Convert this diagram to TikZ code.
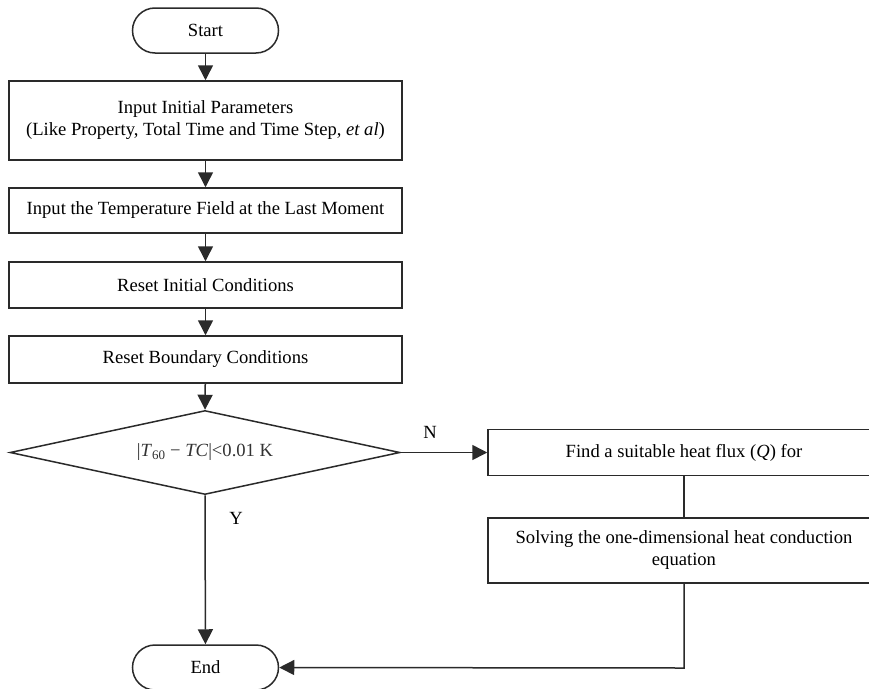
\documentclass[tikz,border=0pt]{standalone}
\usepackage{fontspec}
\setmainfont{Liberation Serif}
\usetikzlibrary{shapes.geometric,arrows.meta}
\definecolor{linec}{HTML}{2A2A2A}
\tikzset{
  every node/.style={font=\fontsize{18.6}{22}\selectfont},
  box/.style={draw=linec,line width=1.5pt,rectangle,minimum width=393pt,inner sep=0pt,align=center},
  term/.style={draw=linec,line width=1.5pt,rectangle,rounded corners=22.5pt,minimum width=146pt,minimum height=45pt,inner sep=0pt},
  decide/.style={draw=linec,line width=1.5pt,diamond,aspect=4.64,minimum width=390pt,minimum height=84pt,inner sep=0pt},
  arr/.style={draw=linec,line width=1.5pt,-{Triangle[length=15pt,width=15pt]}},
  ln/.style={draw=linec,line width=1.5pt},
  lbl/.style={font=\fontsize{18.6}{22}\selectfont}
}
\begin{document}
\begin{tikzpicture}[x=1pt,y=-1pt]
\useasboundingbox (0,0) rectangle (869,688);
\clip (0,0) rectangle (869,688);
\node[term] (start) at (205.5,30.5) {Start};
\node[box,minimum height=79pt] (b1) at (205.5,120.5) {Input Initial Parameters\\(Like Property, Total Time and Time Step, \textit{et al})};
\node[box,minimum height=45pt] (b2) at (205.5,210.5) {Input the Temperature Field at the Last Moment};
\node[box,minimum height=46pt] (b3) at (205.5,285) {Reset Initial Conditions};
\node[box,minimum height=47pt] (b4) at (205.5,359.5) {Reset Boundary Conditions};
\node[decide] (d) at (205,452.5) {};
\node (dt) at (205,452.5) {\textcolor{black!80}{|\textit{T}\textsubscript{60} − \textit{TC}|<0.01 K}};
\node[term] (end) at (205.5,667.5) {End};
\node[box,minimum width=392pt,minimum height=46pt] (r1) at (684,452.5) {Find a suitable heat flux (\textit{Q}) for};
\node[box,minimum width=392pt,minimum height=65pt] (r2) at (684,550.5) {Solving the one-dimensional heat conduction\\equation};
\node[lbl] (ny) at (236,518) {Y};
\node[lbl] (nn) at (430,432) {N};
\coordinate (corner) at (684,668);
\draw[arr] (start) -- (b1);
\draw[arr] (b1) -- (b2);
\draw[arr] (b2) -- (b3);
\draw[arr] (b3) -- (b4);
\draw[arr] (b4) -- (d.north);
\draw[arr] (d.south) -- (end);
\draw[arr] (d.east) -- (r1.west);
\draw[ln] (r1) -- (r2);
\draw[arr] (r2.south) -- (corner) -- (end.east);
\end{tikzpicture}
\end{document}
